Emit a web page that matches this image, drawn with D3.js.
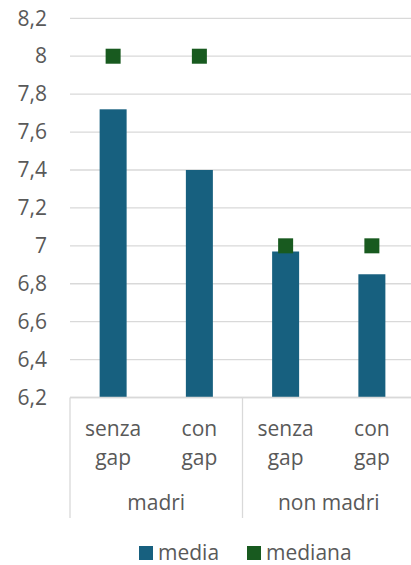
<!DOCTYPE html>
<html><head><meta charset="utf-8">
<script src="https://cdn.jsdelivr.net/npm/d3@7"></script>
<style>
html,body{margin:0;padding:0;background:#fff;}
svg{display:block;font-family:"Open Sans",sans-serif;}
</style></head>
<body><svg id="c" width="411" height="565"></svg>
<script>
const subLabels = [["senza","gap"],["con","gap"],["senza","gap"],["con","gap"]];
const groups = ["madri","non madri"];
const categories = ["madri senza gap","madri con gap","non madri senza gap","non madri con gap"];
const media = [7.72, 7.40, 6.97, 6.85];
const mediana = [8, 8, 7, 7];
const yTicks = [6.2,6.4,6.6,6.8,7.0,7.2,7.4,7.6,7.8,8.0,8.2];
const seriesNames = ["media","mediana"];
const colors = {media:"#17607F", mediana:"#185A1F"};

(function(){
const svg = d3.select("#c");
const pLeft = 70, pRight = 415, pTop = 18.3, pBottom = 397.5;
const textColor = "#595959", fs = 21;

const y = d3.scaleLinear().domain([6.2, 8.2]).range([pBottom, pTop]);
const x = d3.scaleBand().domain(categories).range([pLeft, pRight]).paddingInner(0.687).paddingOuter(0.3435);
const fmt = d => d3.format(".1f")(d).replace(/\.0$/,"").replace(".",",");

svg.append("g").selectAll("line").data(yTicks).join("line")
  .attr("x1", pLeft).attr("x2", 411)
  .attr("y1", d => y(d)).attr("y2", d => y(d))
  .attr("stroke", "#d9d9d9").attr("stroke-width", 1.3);

const yAxis = d3.axisLeft(y).tickValues(yTicks).tickFormat(fmt).tickSize(0).tickPadding(0);
const ya = svg.append("g").attr("transform", "translate(47,0)").call(yAxis);
ya.select(".domain").remove();
ya.selectAll("text").attr("fill", textColor).style("font-size", fs+"px").style("font-family","'Open Sans',sans-serif");

svg.append("g").selectAll("rect").data(media).join("rect")
  .attr("x", (d,i) => x(categories[i]))
  .attr("width", x.bandwidth())
  .attr("y", d => y(d))
  .attr("height", d => y(6.2) - y(d))
  .attr("fill", colors.media);

const ms = 15;
svg.append("g").selectAll("rect").data(mediana).join("rect")
  .attr("x", (d,i) => x(categories[i]) + x.bandwidth()/2 - ms/2)
  .attr("y", d => y(d) - ms/2)
  .attr("width", ms).attr("height", ms)
  .attr("fill", colors.mediana);

const axG = svg.append("g").attr("stroke", "#d9d9d9").attr("stroke-width", 1.3);
axG.append("line").attr("x1", pLeft).attr("x2", 411).attr("y1", pBottom).attr("y2", pBottom);
const step = x.step();
[0, 2, 4].forEach(k => {
  const xx = pLeft + k*step;
  axG.append("line").attr("x1", xx).attr("x2", xx).attr("y1", pBottom).attr("y2", 518);
});

const labG = svg.append("g").attr("fill", textColor).style("font-size", fs+"px").attr("text-anchor","middle");
subLabels.forEach((lines, i) => {
  const cx = x(categories[i]) + x.bandwidth()/2;
  lines.forEach((t, j) => {
    labG.append("text").attr("x", cx).attr("y", 436 + j*29).text(t);
  });
});
groups.forEach((g, k) => {
  labG.append("text").attr("x", pLeft + (2*k+1)*step).attr("y", 510).text(g);
});

const lg = svg.append("g").style("font-size", fs+"px").attr("fill", textColor);
const legX = [139, 247];
seriesNames.forEach((n, i) => {
  lg.append("rect").attr("x", legX[i]).attr("y", 546).attr("width", 14).attr("height", 14).attr("fill", colors[n]);
  lg.append("text").attr("x", legX[i] + 19).attr("y", 560).text(n);
});
})();
</script></body></html>
